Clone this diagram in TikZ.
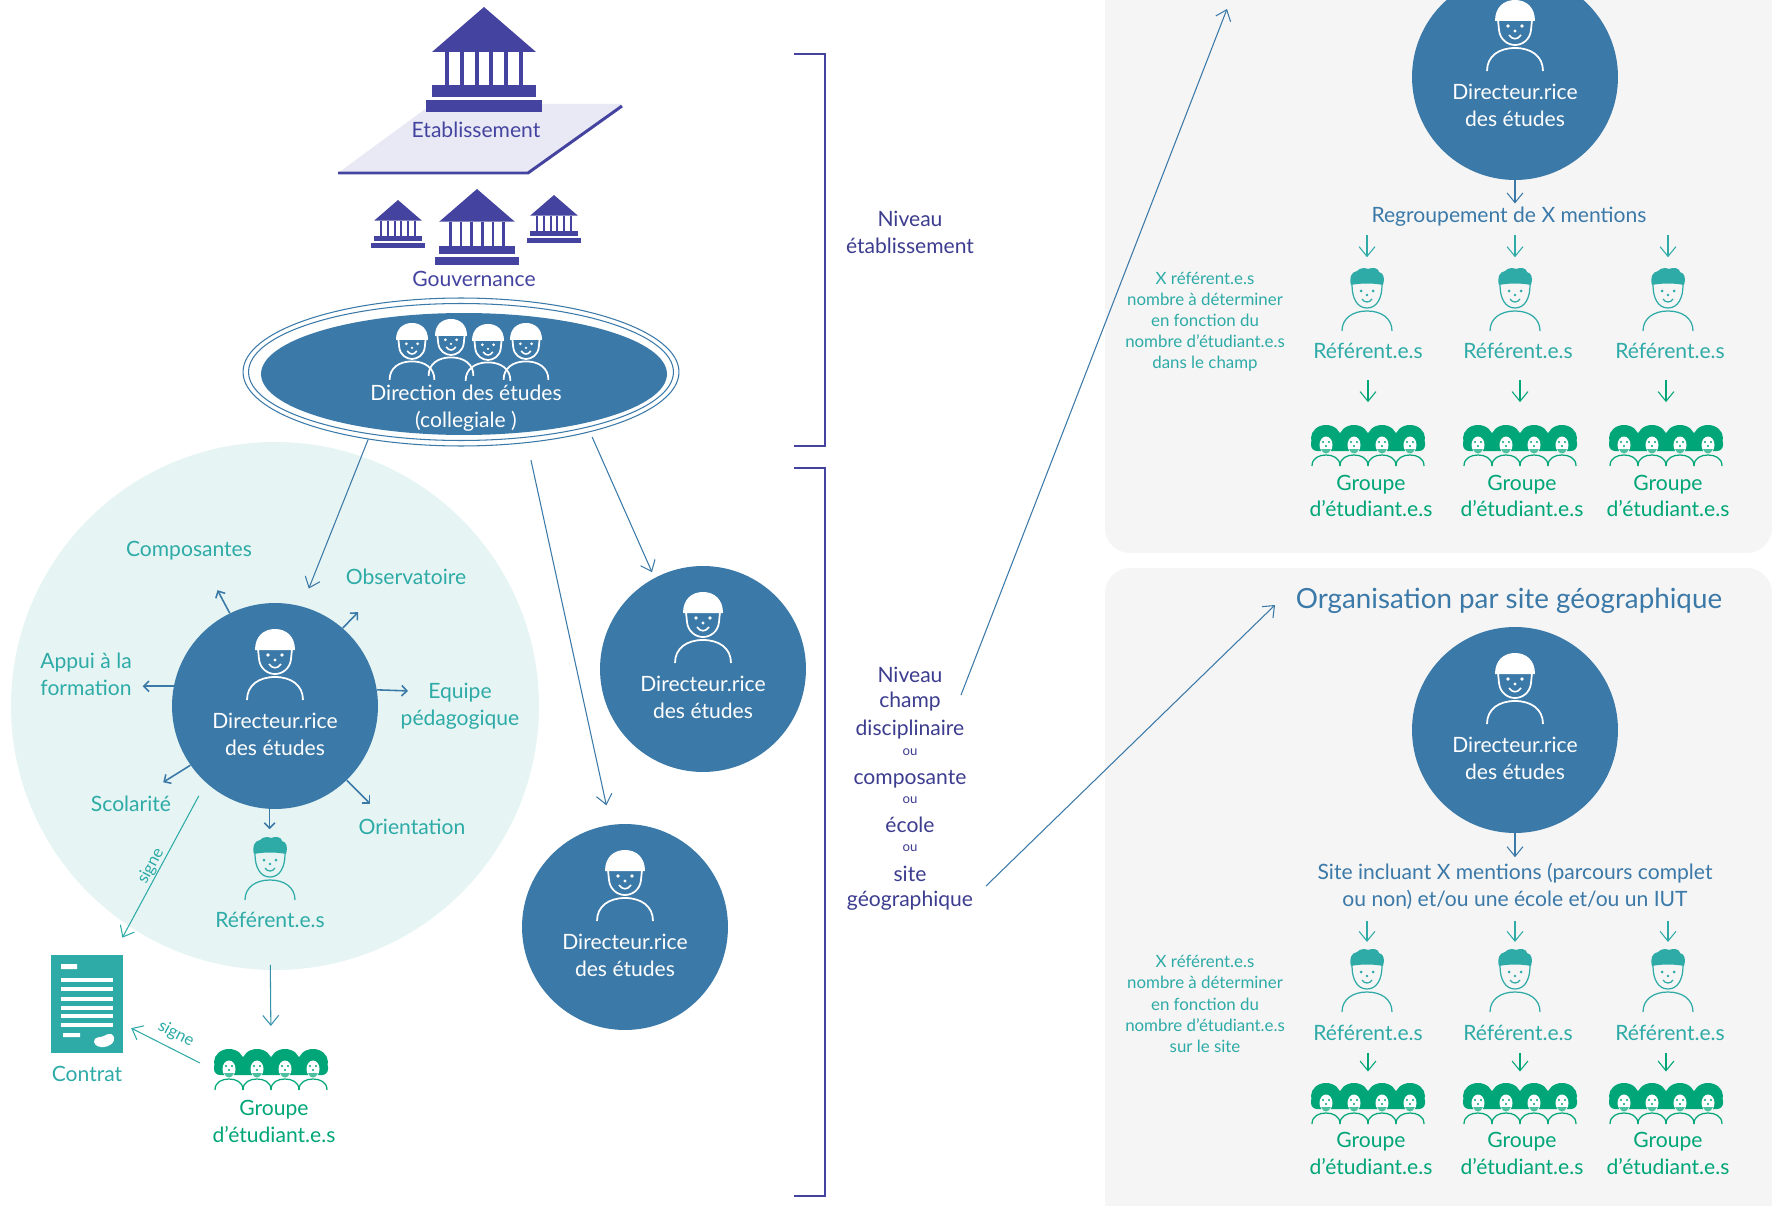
\documentclass[tikz,border=0pt]{standalone}
\usepackage{fontspec}
\setmainfont{Lato}
\usetikzlibrary{arrows.meta,shapes.geometric}
\definecolor{bleu}{HTML}{3B79A8}
\definecolor{indigo}{HTML}{4444A0}
\definecolor{turq}{HTML}{2EABA7}
\definecolor{vert}{HTML}{00A678}
\definecolor{nuage}{HTML}{E6F5F4}
\definecolor{gris}{HTML}{F5F5F5}
\definecolor{dalle}{HTML}{E9E9F5}
\tikzset{
fl/.style={-{Straight Barb[length=5.5pt,width=9pt]},line width=.6pt},
fc/.style={-{Straight Barb[length=3pt,width=6pt]},line width=.9pt},
txt/.style={inner sep=0pt,align=center,font=\fontsize{12}{15.3}\selectfont},
petit/.style={inner sep=0pt,align=center,font=\fontsize{9.6}{12}\selectfont,text=turq},
rond/.style={circle,fill=bleu,minimum size=4.12cm,inner sep=0pt},
anneau/.style={ellipse,draw=bleu,line width=.6pt,inner sep=0pt},
batiment/.pic={
\fill[indigo](0,0)--(52,45)--(-52,45)--cycle;
\foreach \c in {-37,-22,-7,7,22,37}{\fill[indigo](\c-2,45)rectangle(\c+2,78);}
\fill[indigo](-52,78)rectangle(52,90);
\fill[indigo](-58,93)rectangle(58,105);},
directeur/.pic={
\fill[white](-20,21)..controls(-20,7)and(-11,0)..(0,0)..controls(11,0)and(20,7)..(20,21)--cycle;
\draw[white,line width=1pt](-17,20)--(-16,30)..controls(-15,40)and(-7,45)..(0,45)..controls(7,45)and(15,40)..(16,30)--(17,20);
\fill[white](-7,26)circle[radius=1.9](7,26)circle[radius=1.9](0,31)circle[radius=1.6];
\draw[white,line width=.9pt](-6,35)..controls(-3,40)and(3,40)..(6,35);
\draw[white,line width=1pt](-28,71)..controls(-28,56)and(-16,48)..(0,48)..controls(16,48)and(28,56)..(28,71);},
referent/.pic={
\fill[turq](-16,17)..controls(-18,10)and(-16,4)..(-10,3)..controls(-7,-1)and(0,0)..(1,1)..controls(5,-1)and(12,0)..(12,4)..controls(17,5)and(18,11)..(16,17)..controls(6,15)and(-6,15)..(-16,17)--cycle;
\draw[turq,line width=.7pt](-15,17)..controls(-15,30)and(-10,40)..(0,40)..controls(10,40)and(15,30)..(15,17);
\fill[turq](-6,23)circle[radius=1.5](6,23)circle[radius=1.5](0,27)circle[radius=1.3];
\draw[turq,line width=.7pt](-5,31)..controls(-3,35)and(3,35)..(5,31);
\draw[turq,line width=.7pt](-25,63)..controls(-25,50)and(-14,43)..(0,43)..controls(14,43)and(25,50)..(25,63);},
etudiants/.pic={
\fill[vert,rounded corners=.12cm](-57,12)rectangle(57,26);
\foreach \c in {-42,-14,14,42}{
\fill[vert](\c,13)ellipse[x radius=15,y radius=13];}
\foreach \c in {-42,-14,14,42}{
\fill[white](\c,20)ellipse[x radius=6.5,y radius=8.5];
\fill[vert](\c-3,17)circle[radius=1.1](\c+3,17)circle[radius=1.1](\c,21)circle[radius=1.2];
\fill[vert!70!white](\c-5,24)..controls(\c-3,30)and(\c+3,30)..(\c+5,24)--cycle;
\draw[vert,line width=.7pt](\c-14,41)..controls(\c-14,33)and(\c-7,30)..(\c,30)..controls(\c+7,30)and(\c+14,33)..(\c+14,41);}},
}
\begin{document}
\begin{tikzpicture}[x=.02cm,y=-.02cm]
\clip(0,0)rectangle(1772,1206);
\fill[gris,rounded corners=.5cm](1105,-40)rectangle(1772,553);
\fill[gris,rounded corners=.5cm](1105,568)rectangle(1772,1250);
\fill[nuage](275,706)circle[radius=264];
\fill[dalle](432,104)--(622,104)--(528,173)--(338,173)--cycle;
\draw[indigo,line width=1.7pt](338,173)--(528,173)--(622,106);
\pic at(484,7){batiment};
\pic[scale=.727] at(477,189){batiment};
\pic[scale=.46] at(398,200){batiment};
\pic[scale=.46] at(554,195){batiment};
\node[txt,text=indigo](etab) at(476,130){Etablissement};
\node[txt,text=indigo](gouv) at(474,279){Gouvernance};
\node[anneau,minimum width=8.72cm,minimum height=2.96cm](college) at(461,372){};
\node[anneau,minimum width=8.5cm,minimum height=2.74cm](collegeB) at(461,372){};
\node[ellipse,fill=bleu,inner sep=0pt,minimum width=8.12cm,minimum height=2.44cm](collegeC) at(464,374){};
\pic[scale=.8] at(412,323){directeur};
\pic[scale=.8] at(451,319){directeur};
\pic[scale=.8] at(488,324){directeur};
\pic[scale=.8] at(526,323){directeur};
\node[txt,text=white] at(466,408){Direction des études\\(collegiale )};
\foreach \n/\cx/\cy in {dirA/275/706,dirB/703/669,dirC/625/927,dirD/1515/77,dirE/1515/730}{
\node[rond](\n) at(\cx,\cy){};
\pic at(\cx,\cy-77){directeur};
\node[txt,text=white] at(\cx,\cy+28){Directeur.rice\\des études};}
\draw[fl,bleu](college.216)--(dirA.75)[shorten >=10.8pt];
\draw[fl,bleu,shorten <=10pt,shorten >=11.3pt](college.-47)--(dirC.98);
\draw[fl,bleu,shorten <=3pt,shorten >=3.5pt](college.-25)--(dirB.118);
\foreach \a/\d/\l in {116/118/26,49/46/22,169/180/31,9/-2/31,215/212/32,-46/-45/33,267/270/20}{
\draw[fc,bleu](dirA.\a)--++(-\d:\l)coordinate(p\a);}
\node[txt,text=turq] at(189,551){Composantes};
\node[txt,text=turq] at(406,577){Observatoire};
\node[txt,text=turq] at(86,674){Appui à la\\formation};
\node[txt,text=turq] at(460,706){Equipe\\pédagogique};
\node[txt,text=turq] at(131,804){Scolarité};
\node[txt,text=turq] at(412,827){Orientation};
\pic at(270,837){referent};
\node[txt,text=turq](refL) at(270,920){Référent.e.s};
\node[fill=turq,minimum width=1.44cm,minimum height=1.96cm,inner sep=0pt](contrat) at(87,1004){};
\fill[white](61,964)rectangle(77,969)(63,1033)rectangle(80,1037);
\foreach \y in {980,989,999,1008,1016,1025}{\fill[white](61,\y-2)rectangle(113,\y+2);}
\fill[white](94,1042)..controls(94,1036)and(100,1038)..(104,1036)..controls(110,1032)and(115,1034)..(114,1040)..controls(112,1048)and(96,1050)..(94,1042)--cycle;
\node[txt,text=turq] at(87,1074){Contrat};
\pic at(271,1049){etudiants};
\node(grpL) at(271,1049){};
\node[txt,text=vert] at(274,1121){Groupe\\d'étudiant.e.s};
\coordinate(depS) at(200,1063);
\draw[fl,turq,shorten <=8.4pt,shorten >=11pt](dirA.228)--(contrat.62);
\draw[fl,turq,shorten >=5pt](depS)--(contrat.-29);
\draw[fl,bleu!50!turq,shorten <=21pt,shorten >=9.6pt](refL.south)--(grpL.north);
\node[txt,text=turq,rotate=62,font=\fontsize{9.5}{10}\selectfont] at(151,866){signe};
\node[txt,text=turq,rotate=-28,font=\fontsize{9.5}{10}\selectfont] at(176,1034){signe};
\draw[indigo,line width=1.5pt](794,54)--(825,54)--(825,446)--(794,446);
\draw[indigo,line width=1.5pt](794,468)--(825,468)--(825,1196)--(794,1196);
\foreach \t/\y in {Niveau/219,établissement/246,Niveau/675,champ/702,disciplinaire/730,composante/779,école/825,site/874,géographique/901}{
\node[txt,text=indigo!90!black] at(910,\y){\t};}
\foreach \y in {752,800,848}{\node[txt,text=indigo!90!black,font=\fontsize{7.5}{9}\selectfont] at(910,\y){ou};}
\coordinate(depC) at(961,695);
\coordinate(hautC) at(1227,9);
\coordinate(depG) at(986,886);
\coordinate(orga) at(1275,605);
\draw[fl,bleu](depC)--(hautC);
\draw[fl,bleu](depG)--(orga);
\node[txt,text=bleu](regroup) at(1509,217){Regroupement de X mentions};
\node[txt,text=bleu,font=\fontsize{15.8}{18}\selectfont] at(1509,601){Organisation par site géographique};
\node[txt,text=bleu](site) at(1515,886){Site incluant X mentions (parcours complet\\ou non) et/ou une école et/ou un IUT};
\draw[fl,bleu,shorten >=2pt](dirD.south)--(regroup.north -| dirD.south);
\draw[fl,bleu,shorten >=3pt](dirE.south)--(site.north -| dirE.south);
\node[petit] at(1205,322){X référent.e.s\\nombre à déterminer\\en fonction du\\nombre d'étudiant.e.s\\dans le champ};
\node[petit] at(1205,1004){X référent.e.s\\nombre à déterminer\\en fonction du\\nombre d'étudiant.e.s\\sur le site};
\foreach \p/\hy/\ly/\gy/\ty/\sa/\sb/\sc/\sd/\tp in {H/268/351/425/496/4.6pt/2.6pt/12pt/9.5pt/regroup,B/949/1033/1083/1153/6.7pt/.5pt/6.7pt/3pt/site}{
\foreach \c/\xr/\xl/\xg/\xt in {1/1367/1368/1368/1371,2/1515/1518/1520/1522,3/1668/1670/1666/1668}{
\pic at(\xr,\hy){referent};
\node(refT\p\c) at(\xr,\hy){};
\node[txt,text=turq](refL\p\c) at(\xl,\ly){Référent.e.s};
\pic at(\xg,\gy){etudiants};
\node(grpT\p\c) at(\xg,\gy){};
\node[txt,text=vert] at(\xt,\ty){Groupe\\d'étudiant.e.s};
\draw[fl,turq,shorten <=\sa,shorten >=\sb](\tp.south -| refT\p\c)--(refT\p\c.north);
\draw[fl,vert,shorten <=\sc,shorten >=\sd](refL\p\c.south -| grpT\p\c)--(grpT\p\c.north);}}
\end{tikzpicture}
\end{document}
